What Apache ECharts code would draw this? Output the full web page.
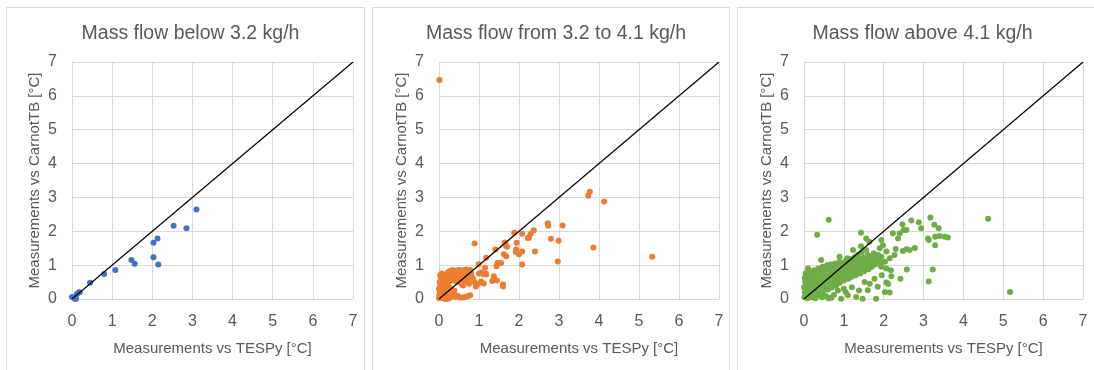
<!DOCTYPE html>
<html>
<head>
<meta charset="utf-8">
<script src="https://cdn.jsdelivr.net/npm/echarts@6/dist/echarts.min.js"></script>
<style>
html,body{margin:0;padding:0;background:#fff;}
#chart{width:1094px;height:370px;}
</style>
</head>
<body>
<div id="chart"></div>
<script>
// ---- Data ----
const titles = ['Mass flow below 3.2 kg/h', 'Mass flow from 3.2 to 4.1 kg/h', 'Mass flow above 4.1 kg/h'];
const xAxisName = 'Measurements vs TESPy [°C]';
const yAxisName = 'Measurements vs CarnotTB [°C]';
const axisTicks = [0, 1, 2, 3, 4, 5, 6, 7];
const diagonal = [[0, 0], [7, 7]];

const lowFlow = [
  [0.0,0.06],[0.05,0.03],[0.08,0.0],[0.1,0.01],[0.12,0.15],[0.17,0.19],[0.19,0.2],
  [0.45,0.48],[0.8,0.74],[1.08,0.86],[1.48,1.15],[1.56,1.04],[2.03,1.66],[2.13,1.79],
  [2.03,1.23],[2.15,1.02],[2.53,2.16],[2.85,2.09],[3.1,2.64]
];

const midFlow = [
  [0.01,6.47],[3.73,3.05],[3.77,3.17],[4.13,2.88],[5.33,1.25],[3.86,1.52],[3.09,2.17],
  [2.99,1.72],[2.97,1.11],[2.8,1.78],[2.72,2.24],[2.73,2.16],[2.37,2.03],[2.29,1.93],
  [2.25,1.81],[2.22,1.8],[2.4,1.4],[2.08,1.93],[1.94,1.66],[1.88,1.96],[1.93,1.46],
  [1.92,1.39],[2.0,1.32],[2.08,1.4],[2.08,1.02],[1.7,1.54],[1.67,1.59],[1.64,1.67],
  [1.62,1.32],[1.68,1.26],[1.6,0.43],[1.6,0.37],[1.41,1.46],[1.46,1.06],[1.44,0.97],
  [1.55,1.06],[1.37,0.67],[1.33,0.53],[1.45,0.55],[1.18,1.22],[1.15,0.92],[1.11,0.73],
  [1.18,0.72],[1.05,0.52],[0.98,0.45],[0.92,0.37],[0.99,1.03],[0.89,1.64],
  [1.17,0.75],[1.12,0.46],[1.0,0.75],[1.05,0.78],
  // dense upper block
  [0.22,0.78],[0.25,0.72],[0.27,0.83],[0.3,0.65],[0.31,0.76],[0.33,0.86],[0.35,0.7],
  [0.37,0.8],[0.39,0.62],[0.4,0.75],[0.42,0.84],[0.44,0.68],[0.46,0.79],[0.48,0.58],
  [0.5,0.72],[0.51,0.86],[0.53,0.64],[0.55,0.8],[0.57,0.7],[0.58,0.55],[0.6,0.85],
  [0.62,0.75],[0.63,0.62],[0.65,0.8],[0.67,0.68],[0.68,0.87],[0.7,0.74],[0.72,0.6],
  [0.74,0.82],[0.76,0.7],[0.78,0.86],[0.8,0.77],[0.82,0.65],[0.35,0.55],[0.28,0.58],
  [0.45,0.5],[0.55,0.45],[0.6,0.4],[0.7,0.52],[0.75,0.45],[0.85,0.6],[0.88,0.5],
  // dense left column
  [0.0,0.02],[0.01,0.1],[0.02,0.2],[0.0,0.3],[0.03,0.42],[0.02,0.5],[0.05,0.05],
  [0.06,0.15],[0.07,0.28],[0.08,0.38],[0.05,0.6],[0.07,0.75],[0.1,0.02],[0.11,0.12],
  [0.12,0.22],[0.13,0.33],[0.1,0.45],[0.14,0.55],[0.16,0.06],[0.17,0.18],[0.18,0.3],
  [0.2,0.42],[0.19,0.62],[0.22,0.1],[0.23,0.25],[0.24,0.5],[0.26,0.35],[0.28,0.15],
  [0.03,0.7],[0.12,0.68],[0.15,0.0],[0.2,0.0],[0.26,0.02],
  // bottom row
  [0.3,0.08],[0.35,0.12],[0.4,0.06],[0.45,0.1],[0.52,0.05],[0.58,0.04],[0.65,0.06],
  [0.72,0.08],[0.78,0.11],[0.33,0.2],[0.38,0.25]
];

const highFlow = [
  // outliers
  [0.33,1.9],[0.62,2.34],[4.62,2.37],[5.17,0.21],[1.43,1.96],[1.56,1.79],[1.64,1.69],
  [1.43,1.56],[1.23,1.45],[0.89,1.25],[0.43,1.15],[0.64,1.0],[0.1,0.9],
  // right side
  [2.69,2.32],[2.88,2.27],[3.17,2.41],[2.94,2.09],[3.27,2.19],[3.38,2.09],[2.47,2.21],
  [2.5,2.04],[2.57,2.04],[2.4,1.94],[2.23,1.94],[2.36,1.79],[3.11,1.79],[3.13,1.74],
  [3.29,1.84],[3.4,1.86],[3.53,1.84],[3.61,1.82],[3.29,1.59],[2.78,1.51],[2.57,1.47],
  [2.48,1.42],[2.65,1.45],[2.3,1.48],[2.07,1.4],[1.94,1.74],[1.98,1.59],[1.94,1.25],
  [2.15,1.2],[2.03,1.1],[2.07,0.9],[1.94,0.95],[2.58,0.87],[3.23,0.87],[3.13,0.52],
  [2.19,0.67],[2.42,0.6],[2.07,0.49],[2.11,0.44],[2.03,0.21],[2.15,0.19],[2.27,1.3],
  [1.9,1.5],[2.18,0.85],
  // dense band
  [0.01,0.05],[0.02,0.2],[0.0,0.35],[0.03,0.5],[0.02,0.62],[0.04,0.75],[0.05,0.12],[0.06,0.42],
  [0.09,0.02],[0.1,0.28],[0.11,0.55],[0.12,0.7],[0.1,0.82],[0.13,0.15],[0.14,0.4],
  [0.18,0.05],[0.2,0.22],[0.21,0.48],[0.19,0.62],[0.22,0.78],[0.24,0.35],[0.25,0.85],[0.23,0.1],
  [0.28,0.02],[0.3,0.28],[0.31,0.55],[0.29,0.7],[0.33,0.82],[0.34,0.42],[0.32,0.14],[0.36,0.9],
  [0.38,0.1],[0.4,0.35],[0.41,0.62],[0.42,0.76],[0.44,0.88],[0.45,0.5],[0.43,0.22],[0.47,0.95],
  [0.48,0.18],[0.5,0.4],[0.52,0.66],[0.51,0.82],[0.54,0.92],[0.55,0.3],[0.56,0.55],[0.58,1.0],
  [0.6,0.28],[0.61,0.48],[0.62,0.7],[0.63,0.88],[0.65,0.6],[0.66,0.38],[0.67,1.02],[0.68,0.8],
  [0.7,0.34],[0.72,0.55],[0.73,0.75],[0.74,0.95],[0.76,0.44],[0.77,0.66],[0.78,1.05],[0.79,0.86],
  [0.8,0.4],[0.82,0.6],[0.83,0.8],[0.84,1.0],[0.86,0.5],[0.87,0.7],[0.88,0.92],[0.89,1.1],
  [0.9,0.48],[0.92,0.66],[0.93,0.85],[0.95,1.05],[0.96,0.58],[0.97,0.76],[0.98,0.96],
  [1.0,0.55],[1.02,0.72],[1.03,0.9],[1.04,1.12],[1.06,0.64],[1.07,0.82],[1.08,1.0],[1.09,1.2],
  [1.11,0.6],[1.12,0.78],[1.13,0.95],[1.15,1.1],[1.16,0.7],[1.17,0.88],[1.18,1.18],
  [1.2,0.66],[1.22,0.82],[1.23,1.0],[1.25,1.15],[1.26,0.74],[1.27,0.92],[1.28,1.25],
  [1.3,0.7],[1.32,0.86],[1.33,1.05],[1.35,1.3],[1.36,0.78],[1.37,0.96],[1.39,1.18],
  [1.41,0.75],[1.42,0.92],[1.44,1.1],[1.45,1.38],[1.47,0.84],[1.48,1.0],[1.49,1.22],
  [1.51,0.82],[1.53,0.98],[1.55,1.15],[1.56,1.45],[1.58,0.9],[1.59,1.06],[1.6,1.3],
  [1.62,0.88],[1.64,1.12],[1.66,1.0],[1.68,1.25],[1.7,0.95],[1.72,1.1],[1.75,1.35],
  [1.78,1.02],[1.8,1.2],[1.83,1.08],[1.86,1.3],[1.9,1.15],[1.92,1.0],
  // sparse lower
  [0.45,0.05],[0.55,0.08],[0.62,0.02],[0.68,0.04],[0.75,0.12],[0.85,0.25],[0.93,0.01],
  [1.0,0.3],[1.05,0.2],[1.1,0.11],[1.2,0.35],[1.31,0.06],[1.38,0.25],[1.47,0.01],
  [1.52,0.5],[1.6,0.26],[1.65,0.45],[1.77,0.6],[1.81,0.01],[1.85,0.36],[1.95,0.7]
];

const seriesData = [lowFlow, midFlow, highFlow];
const colors = ['#4472C4', '#ED7D31', '#70AD47'];

// ---- Layout ----
const gridLeft = [72, 439, 804];
const gridWidth = [281, 280, 279];
const panels = [[6.5, 358], [372.5, 357], [737.5, 360]];
const textColor = '#595959';
const gridColor = '#d9d9d9';
const fontFamily = 'Liberation Sans, Arial, sans-serif';

const chart = echarts.init(document.getElementById('chart'));

const grids = [], xAxes = [], yAxes = [], series = [], titleOpts = [], graphics = [];
for (let i = 0; i < 3; i++) {
  grids.push({ left: gridLeft[i], width: gridWidth[i], top: 62, height: 237 });
  const axisCommon = {
    type: 'value', gridIndex: i, min: axisTicks[0], max: axisTicks[axisTicks.length - 1], interval: 1,
    axisTick: { show: false },
    axisLine: { show: true, lineStyle: { color: gridColor, width: 1 } },
    splitLine: { show: true, lineStyle: { color: gridColor, width: 1 } },
    axisLabel: { color: textColor, fontSize: 16, fontFamily: fontFamily, margin: 15 },
    nameLocation: 'middle',
    nameTextStyle: { color: textColor, fontSize: 15, fontFamily: fontFamily }
  };
  xAxes.push(Object.assign({}, axisCommon, { name: xAxisName, nameGap: 42 }));
  yAxes.push(Object.assign({}, axisCommon, { name: yAxisName, nameGap: 30 }));
  series.push({
    type: 'scatter', xAxisIndex: i, yAxisIndex: i, data: seriesData[i],
    symbol: 'circle', symbolSize: 6, itemStyle: { color: colors[i], opacity: 1 }, z: 2,
    silent: true
  });
  series.push({
    type: 'line', xAxisIndex: i, yAxisIndex: i, data: diagonal, symbol: 'none',
    lineStyle: { color: '#000', width: 1.2 }, z: 3, silent: true
  });
  titleOpts.push({
    text: titles[i], left: panels[i][0] + panels[i][1] / 2, top: 19, textAlign: 'center',
    textStyle: { color: textColor, fontSize: 19.5, fontWeight: 'normal', fontFamily: fontFamily }
  });
  graphics.push({
    type: 'rect', shape: { x: panels[i][0], y: 7.5, width: panels[i][1], height: 380 },
    style: { fill: 'none', stroke: gridColor, lineWidth: 1 }, z: -10, silent: true
  });
}

chart.setOption({
  animation: false,
  backgroundColor: '#fff',
  title: titleOpts,
  grid: grids,
  xAxis: xAxes,
  yAxis: yAxes,
  series: series,
  graphic: graphics
});
</script>
</body>
</html>
